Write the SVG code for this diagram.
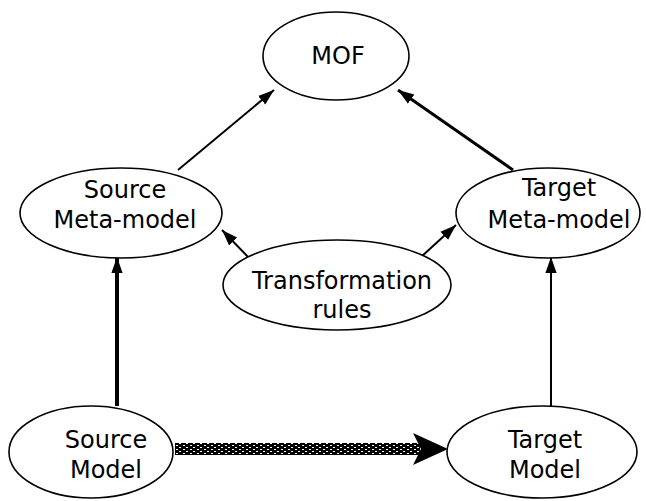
<svg xmlns="http://www.w3.org/2000/svg" width="646" height="501" viewBox="0 0 646 501">
  <style>
    .node ellipse { fill: #ffffff; stroke: #000000; stroke-width: 1.6; }
    .node text { font-family: "DejaVu Sans", "Liberation Sans", sans-serif; font-size: 24px; fill: #000000; text-anchor: middle; }
    .edge { stroke: #000000; fill: none; }
  </style>
  <defs>
    <marker id="headS" viewBox="0 0 10 10" refX="10" refY="5" markerWidth="16" markerHeight="16" markerUnits="userSpaceOnUse" orient="auto">
      <path d="M0,1.5 L10,5 L0,8.5 Z" fill="#000000"/>
    </marker>
    <pattern id="hatch" x="0" y="0" width="7" height="4" patternUnits="userSpaceOnUse">
      <rect width="7" height="4" fill="#000000"/>
      <rect x="1" y="1" width="2" height="1" fill="#ffffff"/>
      <rect x="4" y="3" width="2" height="1" fill="#ffffff"/>
    </pattern>
  </defs>

  <g id="connectors">
    <line class="edge" x1="178" y1="170" x2="274" y2="90" stroke-width="2" marker-end="url(#headS)"/>
    <line class="edge" x1="513" y1="170" x2="398" y2="90" stroke-width="3" marker-end="url(#headS)"/>
    <line class="edge" x1="250" y1="259" x2="222" y2="230" stroke-width="2" marker-end="url(#headS)"/>
    <line class="edge" x1="421" y1="257" x2="456" y2="225" stroke-width="2" marker-end="url(#headS)"/>
    <line class="edge" x1="117" y1="406" x2="117" y2="257" stroke-width="4" marker-end="url(#headS)"/>
    <line class="edge" x1="551" y1="406" x2="551" y2="257" stroke-width="2" marker-end="url(#headS)"/>
    <!-- hatched transformation arrow -->
    <rect x="175" y="443" width="245" height="12" fill="url(#hatch)"/>
    <path d="M413,433 L448,449 L413,465 L421,449 Z" fill="#000000"/>
  </g>

  <g id="mof" class="node">
    <ellipse cx="336" cy="56" rx="73" ry="44"/>
    <text x="338" y="64">MOF</text>
  </g>
  <g id="source-metamodel" class="node">
    <ellipse cx="121" cy="213" rx="101" ry="45"/>
    <text x="125" y="198">Source</text>
    <text x="125" y="228">Meta-model</text>
  </g>
  <g id="target-metamodel" class="node">
    <ellipse cx="548" cy="213" rx="92" ry="45"/>
    <text x="559" y="196">Target</text>
    <text x="559" y="228">Meta-model</text>
  </g>
  <g id="transformation-rules" class="node">
    <ellipse cx="337" cy="285" rx="114" ry="45"/>
    <text x="342" y="289">Transformation</text>
    <text x="342" y="318">rules</text>
  </g>
  <g id="source-model" class="node">
    <ellipse cx="91" cy="452" rx="82" ry="46"/>
    <text x="106" y="448">Source</text>
    <text x="106" y="478">Model</text>
  </g>
  <g id="target-model" class="node">
    <ellipse cx="542" cy="452" rx="95" ry="46"/>
    <text x="545" y="448">Target</text>
    <text x="545" y="478">Model</text>
  </g>
</svg>
